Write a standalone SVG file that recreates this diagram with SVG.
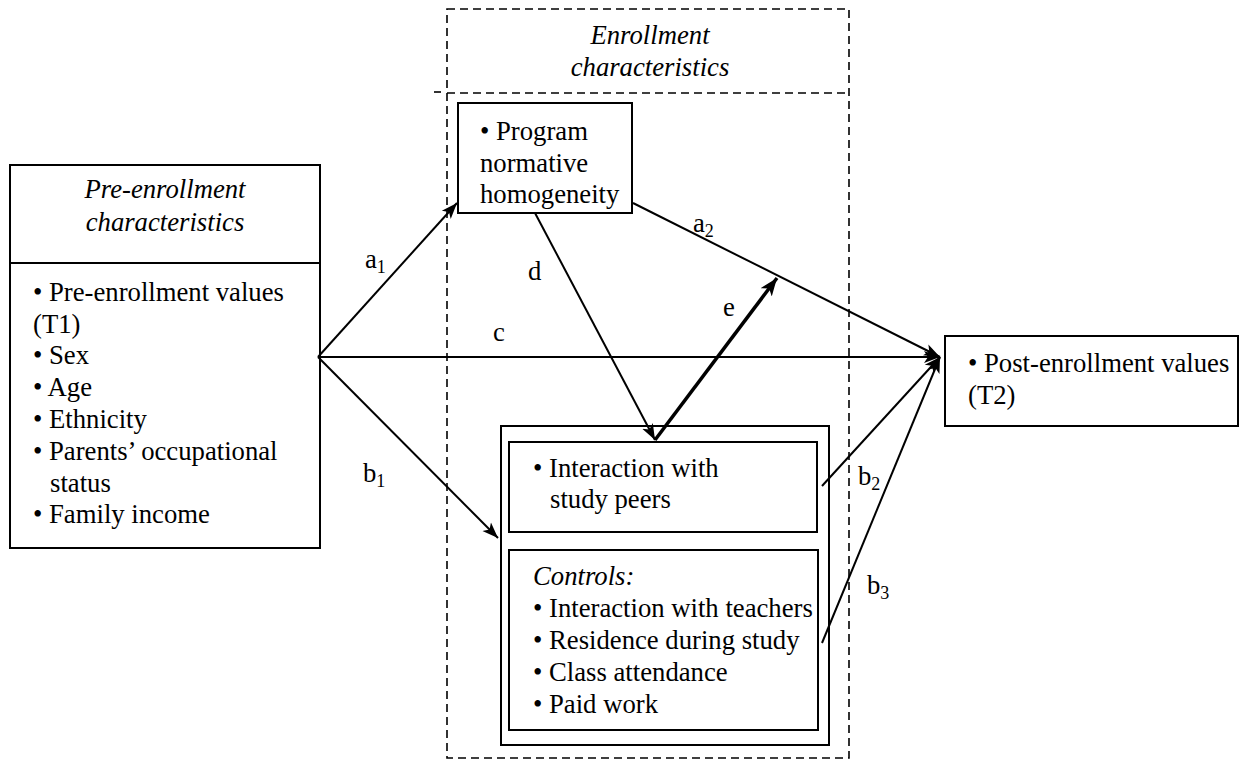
<svg xmlns="http://www.w3.org/2000/svg" width="1241" height="760" viewBox="0 0 1241 760" font-family="'Liberation Serif', serif">
<style>
text{font-family:'Liberation Serif', serif;font-size:26.7px;fill:#000}
.it{font-style:italic}
.box{fill:#fff;stroke:#000;stroke-width:2}
.dash{fill:none;stroke:#000;stroke-width:1.6;stroke-dasharray:8 5}
.ln{fill:none;stroke:#000;stroke-width:2}
.thick{fill:none;stroke:#000;stroke-width:3.5}
.sub{font-size:18px}
</style>
<defs>
<marker id="ah" markerUnits="userSpaceOnUse" markerWidth="18" markerHeight="14" refX="16" refY="7" orient="auto">
<path d="M0,1 L16,7 L0,13 L4,7 z" fill="#000"/>
</marker>
<marker id="ahb" markerUnits="userSpaceOnUse" markerWidth="20" markerHeight="16" refX="18" refY="8" orient="auto">
<path d="M0,1 L18,8 L0,15 L5,8 z" fill="#000"/>
</marker>
</defs>
<rect width="1241" height="760" fill="#fff"/>

<g id="enrollment-frame">
<rect class="dash" x="447" y="9" width="402" height="749"/>
<line class="dash" x1="447" y1="93" x2="849" y2="93"/>
<line x1="434" y1="92" x2="441" y2="92" stroke="#000" stroke-width="1.6"/>
<text class="it" x="650" y="44" text-anchor="middle">Enrollment</text>
<text class="it" x="650" y="76" text-anchor="middle">characteristics</text>
</g>

<g id="pre-enrollment">
<rect class="box" x="10" y="165" width="310" height="383"/>
<line class="ln" x1="10" y1="263" x2="320" y2="263"/>
<text class="it" x="165" y="198" text-anchor="middle">Pre-enrollment</text>
<text class="it" x="165" y="231" text-anchor="middle">characteristics</text>
<text x="33" y="301">• Pre-enrollment values</text>
<text x="33" y="333">(T1)</text>
<text x="33" y="364">• Sex</text>
<text x="33" y="396">• Age</text>
<text x="33" y="428">• Ethnicity</text>
<text x="33" y="460">• Parents’ occupational</text>
<text x="50" y="492">status</text>
<text x="33" y="523">• Family income</text>
</g>

<g id="program">
<rect class="box" x="458" y="103" width="174" height="110"/>
<text x="480" y="140">• Program</text>
<text x="480" y="172">normative</text>
<text x="480" y="203">homogeneity</text>
</g>

<g id="interaction-group">
<rect class="box" x="501" y="426" width="328" height="319"/>
</g>

<g id="interaction">
<rect class="box" x="509" y="442" width="308" height="90"/>
<text x="533" y="477">• Interaction with</text>
<text x="550" y="508">study peers</text>
</g>

<g id="controls">
<rect class="box" x="509" y="550" width="309" height="180"/>
<text class="it" x="533" y="585">Controls:</text>
<text x="533" y="617">• Interaction with teachers</text>
<text x="533" y="649">• Residence during study</text>
<text x="533" y="681">• Class attendance</text>
<text x="533" y="713">• Paid work</text>
</g>

<g id="post-enrollment">
<rect class="box" x="945" y="336" width="293" height="90"/>
<text x="968" y="372">• Post-enrollment values</text>
<text x="968" y="404">(T2)</text>
</g>

<g id="connectors">
<line class="ln" x1="318" y1="357" x2="457" y2="203" marker-end="url(#ah)"/>
<line class="ln" x1="318" y1="357" x2="940" y2="357" marker-end="url(#ah)"/>
<line class="ln" x1="318" y1="357" x2="498" y2="538" marker-end="url(#ah)"/>
<line class="ln" x1="535" y1="213" x2="655" y2="440" marker-end="url(#ah)"/>
<line class="thick" x1="655" y1="440" x2="777" y2="278" marker-end="url(#ahb)"/>
<line class="ln" x1="633" y1="203" x2="940" y2="357" marker-end="url(#ah)"/>
<line class="ln" x1="822" y1="486" x2="940" y2="357" marker-end="url(#ah)"/>
<line class="ln" x1="822" y1="643" x2="940" y2="357" marker-end="url(#ah)"/>
<text x="365" y="268">a<tspan class="sub" dy="5">1</tspan></text>
<text x="693" y="232">a<tspan class="sub" dy="5">2</tspan></text>
<text x="528" y="280">d</text>
<text x="493" y="341">c</text>
<text x="723" y="316">e</text>
<text x="363" y="482">b<tspan class="sub" dy="5">1</tspan></text>
<text x="858" y="485">b<tspan class="sub" dy="5">2</tspan></text>
<text x="867" y="594">b<tspan class="sub" dy="5">3</tspan></text>
</g>
</svg>
